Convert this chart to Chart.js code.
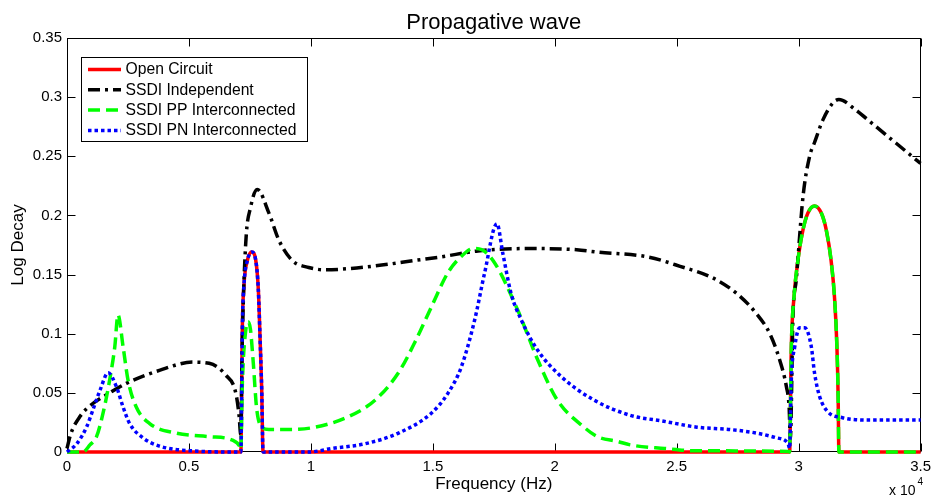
<!DOCTYPE html>
<html>
<head>
<meta charset="utf-8">
<title>Propagative wave</title>
<script src="https://cdn.jsdelivr.net/npm/chart.js@4.4.1/dist/chart.umd.min.js"></script>
<style>
  html, body { margin: 0; padding: 0; background: #fff; }
  canvas { display: block; }
</style>
</head>
<body>
<canvas id="chart" width="937" height="496"></canvas>
<script>
// axis ticks (x in Hz, labelled in units of 10^4)
const xTicks = [0, 5000, 10000, 15000, 20000, 25000, 30000, 35000];
const xTickLabels = ["0", "0.5", "1", "1.5", "2", "2.5", "3", "3.5"];
const yTicks = [0, 0.05, 0.1, 0.15, 0.2, 0.25, 0.3, 0.35];
const yTickLabels = ["0", "0.05", "0.1", "0.15", "0.2", "0.25", "0.3", "0.35"];

const seriesNames = ["Open Circuit", "SSDI Independent", "SSDI PP Interconnected", "SSDI PN Interconnected"];

// Open Circuit
const ocFreq = [0, 7100, 7128, 7193, 7262, 7397, 7576, 7740, 7846, 7915, 7985, 8038,
  29630, 29700, 29810, 29970, 30180, 30380, 30650, 30930, 31130, 31330, 31470, 31570, 31620, 31650, 35000];
const ocDecay = [0, 0, 0, 0.109, 0.143, 0.162, 0.169, 0.162, 0.137, 0.097, 0.052, 0,
  0, 0.089, 0.131, 0.162, 0.188, 0.202, 0.208, 0.202, 0.188, 0.162, 0.131, 0.089, 0.047, 0, 0];

// SSDI Independent
const ssdiFreq = [0, 150, 530, 1060, 1750, 2430, 3790, 5150, 5830, 6510, 6920, 7060, 7120, 7190,
  7330, 7530, 7800, 8280, 8690, 9230, 9910, 10600, 11550, 12900, 14270, 15350, 16850, 19000,
  20900, 21750, 23790, 25140, 26500, 27460, 28270, 28820, 29220, 29500, 29610, 29660, 29770,
  29900, 30180, 30450, 30640, 31000, 31400, 31650, 32350, 33000, 34000, 35000];
const ssdiDecay = [0.003, 0.015, 0.03, 0.041, 0.05, 0.058, 0.069, 0.076, 0.075, 0.065, 0.05, 0.03, 0.015, 0.097,
  0.177, 0.207, 0.222, 0.202, 0.179, 0.162, 0.156, 0.154, 0.155, 0.158, 0.162, 0.165, 0.17, 0.172,
  0.171, 0.169, 0.165, 0.157, 0.147, 0.134, 0.117, 0.1, 0.078, 0.055, 0.038, 0.012, 0.117,
  0.145, 0.216, 0.25, 0.261, 0.281, 0.295, 0.298, 0.289, 0.278, 0.261, 0.244];

// SSDI PP Interconnected
const ppFreq = [0, 650, 940, 1210, 1480, 1750, 1960, 2090, 2300, 2500, 2840, 3390, 4470, 5830, 6790,
  7100, 7128, 7190, 7330, 7440, 7520, 7640, 7770, 7950, 8280, 9100, 10190, 11550, 12640, 13590,
  14270, 14950, 15630, 16200, 16650, 17000, 17530, 18480, 19300, 20100, 21200, 21750, 22560,
  23100, 24500, 25800, 29600,
  29630, 29700, 29810, 29970, 30180, 30380, 30650, 30930, 31130, 31330, 31470, 31570, 31620, 31650, 35000];
const ppDecay = [0, 0, 0.006, 0.013, 0.033, 0.061, 0.089, 0.116, 0.089, 0.061, 0.038, 0.024, 0.016, 0.013, 0.01,
  0.004, 0.002, 0.058, 0.103, 0.11, 0.104, 0.075, 0.038, 0.022, 0.019, 0.019, 0.021, 0.03, 0.044, 0.067,
  0.093, 0.123, 0.152, 0.166, 0.172, 0.171, 0.16, 0.12, 0.078, 0.044, 0.021, 0.013, 0.009,
  0.006, 0.003, 0.001, 0.0005,
  0, 0.089, 0.131, 0.162, 0.188, 0.202, 0.208, 0.202, 0.188, 0.162, 0.131, 0.089, 0.047, 0, 0];

// SSDI PN Interconnected
const pnFreq = [0, 400, 800, 1070, 1350, 1690, 2030, 2300, 2570, 3110, 3790, 5100, 7100,
  7128, 7193, 7262, 7397, 7576, 7740, 7846, 7915, 7985, 8038, 9900, 10870, 12230, 13590,
  14950, 15630, 16170, 16720, 17120, 17630, 17870, 18210, 18620, 19300, 20250, 21600, 23100,
  24470, 25830, 27180, 28270, 29090, 29570, 29630, 29700, 29840, 30040, 30250, 30520, 30650,
  30860, 31200, 31800, 33000, 35000];
const pnDecay = [0, 0.007, 0.021, 0.036, 0.052, 0.067, 0.055, 0.038, 0.024, 0.012, 0.005, 0.001, 0,
  0, 0.109, 0.143, 0.162, 0.169, 0.162, 0.137, 0.097, 0.052, 0, 0, 0.003, 0.007, 0.016,
  0.033, 0.05, 0.072, 0.112, 0.151, 0.193, 0.168, 0.134, 0.112, 0.086, 0.064, 0.044, 0.031,
  0.026, 0.021, 0.019, 0.016, 0.012, 0.007, 0.003, 0.061, 0.089, 0.105, 0.105, 0.089, 0.067,
  0.047, 0.034, 0.029, 0.027, 0.027];

const chartTitle = "Propagative wave";
const FONT = "'Liberation Sans', Arial, Helvetica, sans-serif";

const toPoints = (xs, ys) => xs.map((f, i) => ({ x: f, y: ys[i] }));

function series(i, xs, ys, color, width, dash, order) {
  return {
    label: seriesNames[i],
    data: toPoints(xs, ys),
    borderColor: color,
    borderWidth: width,
    borderDash: dash,
    borderCapStyle: "butt",
    borderJoinStyle: "round",
    pointRadius: 0,
    cubicInterpolationMode: "monotone",
    clip: false,
    order: order
  };
}

const datasets = [
  series(0, ocFreq, ocDecay, "#ff0000", 3.5, [], 4),
  series(1, ssdiFreq, ssdiDecay, "#000000", 3.5, [12, 5, 3, 5], 3),
  series(2, ppFreq, ppDecay, "#00ff00", 3.5, [12, 6], 2),
  series(3, pnFreq, pnDecay, "#0000ff", 3.5, [3.5, 3], 1)
];

// box with inward ticks on all four sides, like a MATLAB axes
const frame = {
  id: "frame",
  beforeDatasetsDraw(chart) {
    const { ctx, chartArea: a, scales: { x, y } } = chart;
    const L = Math.round(a.left) + 0.5, R = Math.round(a.right) - 0.5;
    const T = Math.round(a.top) + 0.5, B = Math.round(a.bottom) - 0.5;
    const tl = 8;
    ctx.save();
    ctx.strokeStyle = "#000";
    ctx.lineWidth = 1;
    ctx.strokeRect(L, T, R - L, B - T);
    ctx.beginPath();
    xTicks.forEach(v => {
      const px = Math.round(x.getPixelForValue(v)) + 0.5;
      ctx.moveTo(px, B); ctx.lineTo(px, B - tl);
      ctx.moveTo(px, T); ctx.lineTo(px, T + tl);
    });
    yTicks.forEach(v => {
      const py = Math.round(y.getPixelForValue(v)) + 0.5;
      ctx.moveTo(L, py); ctx.lineTo(L + tl, py);
      ctx.moveTo(R, py); ctx.lineTo(R - tl, py);
    });
    ctx.stroke();
    ctx.restore();
  }
};

const boxLegend = {
  id: "boxLegend",
  afterDatasetsDraw(chart) {
    const { ctx } = chart;
    const bx = 81.5, by = 57.5, bw = 226, bh = 84;
    ctx.save();
    ctx.fillStyle = "#fff";
    ctx.fillRect(bx, by, bw, bh);
    ctx.strokeStyle = "#000";
    ctx.lineWidth = 1;
    ctx.strokeRect(bx, by, bw, bh);
    ctx.font = "15.7px " + FONT;
    ctx.textBaseline = "middle";
    chart.data.datasets.forEach((ds, i) => {
      const yy = 69.5 + i * 20.3;
      ctx.beginPath();
      ctx.strokeStyle = ds.borderColor;
      ctx.lineWidth = ds.borderWidth;
      ctx.setLineDash(ds.borderDash);
      ctx.lineCap = "butt";
      ctx.moveTo(88, yy);
      ctx.lineTo(121, yy);
      ctx.stroke();
      ctx.setLineDash([]);
      ctx.fillStyle = "#000";
      ctx.fillText(ds.label, 125.5, yy + 0.5);
    });
    ctx.restore();
  }
};

// title centred over the plot box, and the x-axis exponent
const extraText = {
  id: "extraText",
  afterDraw(chart) {
    const { ctx, chartArea: a } = chart;
    ctx.save();
    ctx.fillStyle = "#000";
    ctx.textAlign = "center";
    ctx.textBaseline = "middle";
    ctx.font = "22px " + FONT;
    ctx.fillText(chartTitle, (a.left + a.right) / 2, 23);
    ctx.textAlign = "left";
    ctx.textBaseline = "alphabetic";
    ctx.font = "14px " + FONT;
    ctx.fillText("x 10", 889, 495);
    ctx.font = "10px " + FONT;
    ctx.fillText("4", 917.5, 485);
    ctx.restore();
  }
};

new Chart(document.getElementById("chart"), {
  type: "line",
  data: { datasets },
  options: {
    responsive: false,
    animation: false,
    devicePixelRatio: 1,
    layout: { padding: { left: 0, right: 12, top: 38, bottom: 0 } },
    plugins: {
      legend: { display: false },
      tooltip: { enabled: false },
      title: { display: false }
    },
    scales: {
      x: {
        type: "linear",
        min: 0,
        max: 35000,
        grid: { display: false, drawTicks: false },
        border: { display: false },
        afterBuildTicks: s => { s.ticks = xTicks.map(v => ({ value: v })); },
        afterFit: s => { s.height = 44; },
        ticks: {
          autoSkip: false,
          maxRotation: 0,
          padding: 6,
          color: "#000",
          font: { family: FONT, size: 15 },
          callback: (v, i) => xTickLabels[i]
        },
        title: {
          display: true,
          text: "Frequency (Hz)",
          color: "#000",
          font: { family: FONT, size: 17 },
          padding: { top: 0, bottom: 1 }
        }
      },
      y: {
        type: "linear",
        min: 0,
        max: 0.35,
        grid: { display: false, drawTicks: false },
        border: { display: false },
        afterBuildTicks: s => { s.ticks = yTicks.map(v => ({ value: v })); },
        afterFit: s => { s.width = 67; },
        ticks: {
          autoSkip: false,
          padding: 5,
          color: "#000",
          font: { family: FONT, size: 15 },
          callback: (v, i) => yTickLabels[i]
        },
        title: {
          display: true,
          text: "Log Decay",
          color: "#000",
          font: { family: FONT, size: 17 },
          padding: { top: 8, bottom: 0 }
        }
      }
    }
  },
  plugins: [frame, boxLegend, extraText]
});
</script>
</body>
</html>
